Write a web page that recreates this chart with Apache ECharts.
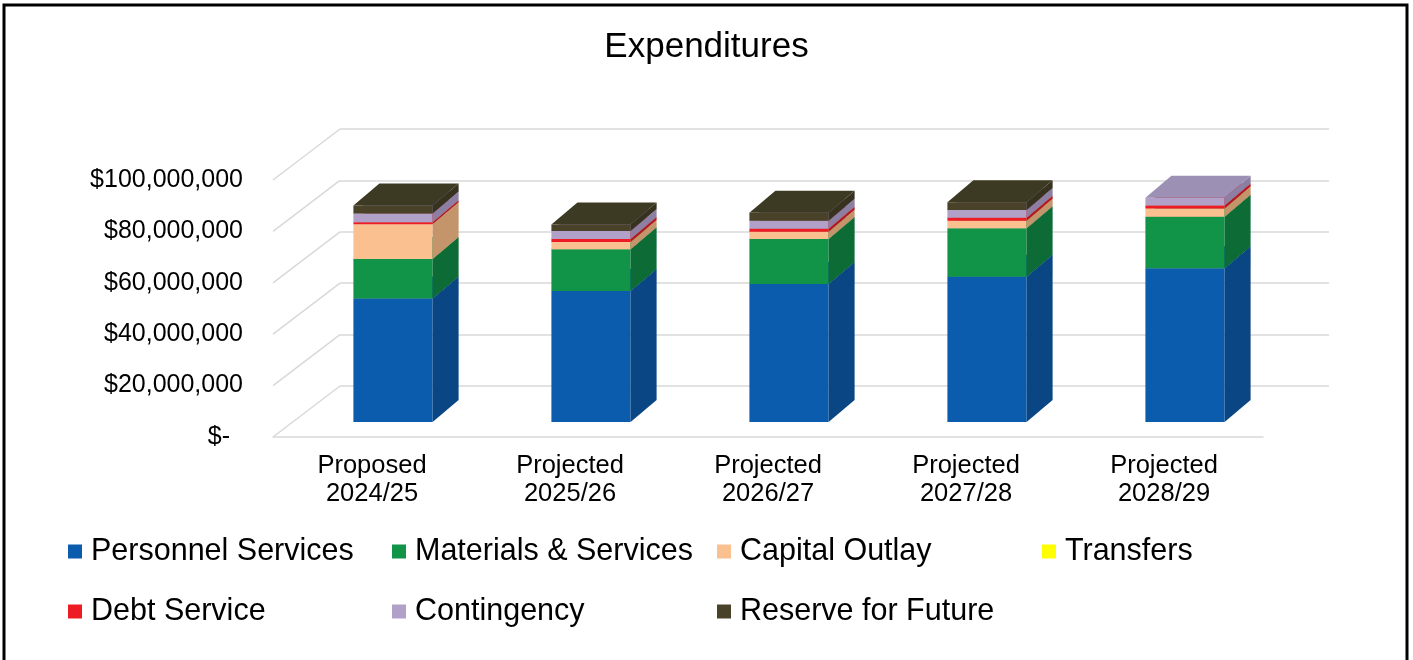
<!DOCTYPE html>
<html>
<head>
<meta charset="utf-8">
<title>Expenditures</title>
<script src="https://cdn.jsdelivr.net/npm/echarts@6/dist/echarts.min.js"></script>
<style>
  html, body { margin: 0; padding: 0; background: #fff; }
  #chart { width: 1413px; height: 660px; }
</style>
</head>
<body>
<div id="chart"></div>
<script>
// categories
var categories = ['Proposed\n2024/25', 'Projected\n2025/26', 'Projected\n2026/27', 'Projected\n2027/28', 'Projected\n2028/29'];

// series values, dollars
var personnelServices = [48100000, 51000000, 53700000, 56500000, 59800000];
var materialsServices = [15300000, 16200000, 17500000, 18900000, 20100000];
var capitalOutlay     = [13500000, 2800000, 2800000, 2900000, 3200000];
var transfers         = [0, 0, 0, 0, 0];
var debtService       = [800000, 1200000, 1200000, 1200000, 1100000];
var contingency       = [3400000, 3100000, 3100000, 3000000, 3100000];
var reserveForFuture  = [3100000, 2500000, 3100000, 3000000, 0];

// value axis ticks
var yTicks = [0, 20000000, 40000000, 60000000, 80000000, 100000000];

var FONT = '"Liberation Sans", Arial, sans-serif';

// fake 3d: depth of the walls and of the boxes (px)
var WALL_DX = 67, WALL_DY = -51;
var BAR_DX = 21, BAR_DY = -15;   // front face of the boxes sits a bit behind the floor edge
var BOX_DX = 26, BOX_DY = -22;

var seriesDefs = [
  { name: 'Personnel Services', values: personnelServices, color: '#0b5cad', side: '#0a4584', top: '#0a519c' },
  { name: 'Materials & Services', values: materialsServices, color: '#119447', side: '#0d6c35', top: '#0f7f3d' },
  { name: 'Capital Outlay', values: capitalOutlay, color: '#fbc08f', side: '#c4956b', top: '#e0aa7e' },
  { name: 'Transfers', values: transfers, color: '#ffff00', side: '#c8c800', top: '#e0e000' },
  { name: 'Debt Service', values: debtService, color: '#ed1c24', side: '#b3181e', top: '#d01a21' },
  { name: 'Contingency', values: contingency, color: '#b1a0c7', side: '#8c7fa3', top: '#9c90b4' },
  { name: 'Reserve for Future', values: reserveForFuture, color: '#4a4228', side: '#37321f', top: '#3d3a23' }
];

function renderBox(s) {
  return function (params, api) {
    var cat = api.value(0), lo = api.value(1), hi = api.value(2);
    if (hi <= lo) return;
    var p0 = api.coord([cat, lo]);
    var p1 = api.coord([cat, hi]);
    var bw = api.size([1, 0])[0] * 0.4;
    var x0 = p0[0] - bw / 2 + BAR_DX, x1 = x0 + bw;
    var yb = p0[1] + BAR_DY, yt = p1[1] + BAR_DY;
    return {
      type: 'group',
      children: [
        { type: 'rect', shape: { x: x0, y: yt, width: bw, height: yb - yt }, style: { fill: s.color } },
        { type: 'polygon', shape: { points: [[x1, yb], [x1 + BOX_DX, yb + BOX_DY], [x1 + BOX_DX, yt + BOX_DY], [x1, yt]] }, style: { fill: s.side } },
        { type: 'polygon', shape: { points: [[x0, yt], [x1, yt], [x1 + BOX_DX, yt + BOX_DY], [x0 + BOX_DX, yt + BOX_DY]] }, style: { fill: s.top } }
      ]
    };
  };
}

function renderWallLine(params, api) {
  var p = api.coord([0, api.value(1)]);
  var x0 = params.coordSys.x;
  return {
    type: 'polyline',
    shape: { points: [[x0, p[1]], [x0 + WALL_DX, p[1] + WALL_DY]] },
    style: { stroke: '#d9d9d9', lineWidth: 1.5, fill: null }
  };
}

var series = [{
  type: 'custom',
  name: 'walls',
  xAxisIndex: 0,
  yAxisIndex: 0,
  z: 1,
  silent: true,
  renderItem: renderWallLine,
  data: yTicks.map(function (v) { return [0, v]; })
}];

var base = categories.map(function () { return 0; });
seriesDefs.forEach(function (s) {
  series.push({
    type: 'custom',
    name: s.name,
    xAxisIndex: 0,
    yAxisIndex: 0,
    z: 2,
    itemStyle: { color: s.color },
    renderItem: renderBox(s),
    encode: { x: 0, y: [1, 2] },
    data: s.values.map(function (v, j) {
      var d = [j, base[j], base[j] + v];
      base[j] += v;
      return d;
    })
  });
});

var legendPos = [[68, 0], [392, 0], [717, 0], [1042, 0], [68, 1], [392, 1], [717, 1]];
var legends = seriesDefs.map(function (s, i) {
  return {
    data: [s.name],
    left: legendPos[i][0],
    top: 536 + legendPos[i][1] * 60,
    padding: 0,
    icon: 'rect',
    itemWidth: 14,
    itemHeight: 14,
    selectedMode: false,
    textStyle: { fontFamily: FONT, fontSize: 30.5, color: '#000', padding: [0, 0, 0, 4] }
  };
});

var chart = echarts.init(document.getElementById('chart'));
chart.setOption({
  animation: false,
  backgroundColor: '#fff',
  title: {
    text: 'Expenditures',
    left: 'center',
    top: 25,
    textStyle: { fontFamily: FONT, fontSize: 35, fontWeight: 'normal', color: '#000' }
  },
  legend: legends,
  grid: [
    { left: 273, right: 150, top: 180, bottom: 223 },
    { left: 273 + WALL_DX, right: 150 - WALL_DX + 1, top: 180 + WALL_DY, bottom: 223 - WALL_DY }
  ],
  xAxis: [
    {
      type: 'category',
      gridIndex: 0,
      data: categories,
      axisLine: { lineStyle: { color: '#d9d9d9', width: 1.5 } },
      axisTick: { show: false },
      axisLabel: { fontFamily: FONT, fontSize: 25.5, color: '#000', lineHeight: 28, margin: 15 }
    },
    {
      type: 'category',
      gridIndex: 1,
      data: categories,
      show: false
    }
  ],
  yAxis: [
    {
      type: 'value',
      gridIndex: 0,
      min: 0,
      max: 100000000,
      interval: 20000000,
      axisLine: { show: false },
      axisTick: { show: false },
      splitLine: { show: false },
      axisLabel: {
        fontFamily: FONT,
        fontSize: 25,
        color: '#000',
        margin: 30,
        formatter: function (v) {
          if (v === 0) return '{z|$-}';
          return '$' + v.toLocaleString('en-US');
        },
        rich: { z: { fontFamily: FONT, fontSize: 25, color: '#000', padding: [0, 13, 0, 0] } }
      }
    },
    {
      type: 'value',
      gridIndex: 1,
      min: 0,
      max: 100000000,
      interval: 20000000,
      axisLine: { show: false },
      axisTick: { show: false },
      axisLabel: { show: false },
      splitLine: { lineStyle: { color: '#d9d9d9', width: 1.5 } }
    }
  ],
  graphic: [{
    type: 'polyline',
    shape: { points: [[4, 660], [4, 5], [1407, 5], [1407, 660]] },
    style: { stroke: '#000', lineWidth: 3, fill: null },
    z: 10
  }],
  series: series
});
</script>
</body>
</html>
